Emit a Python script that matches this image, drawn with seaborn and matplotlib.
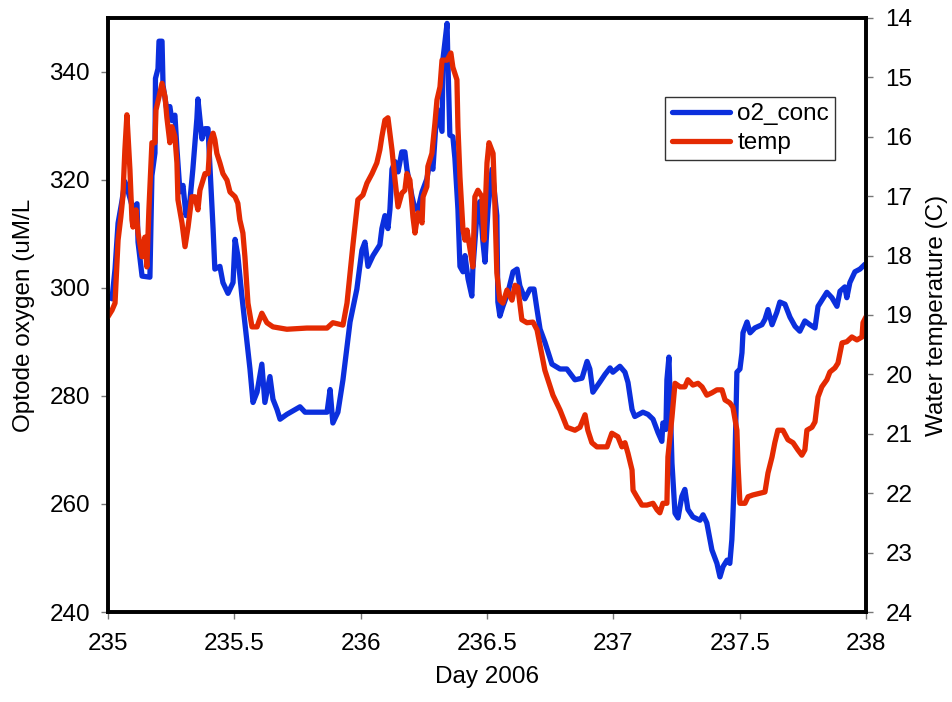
import matplotlib
matplotlib.use("Agg")
import matplotlib.pyplot as plt
import seaborn as sns
import pandas as pd
from matplotlib.ticker import FormatStrFormatter

# Optode oxygen concentration (uM/L) by day of 2006
o2_day = [
    235.000, 235.016, 235.028, 235.040, 235.055, 235.067, 235.079, 235.099, 235.115, 235.119,
    235.135, 235.166, 235.174, 235.186, 235.188, 235.198, 235.202, 235.214, 235.218, 235.233,
    235.245, 235.253, 235.265, 235.273, 235.285, 235.297, 235.309, 235.324, 235.336, 235.352,
    235.356, 235.372, 235.384, 235.396, 235.404, 235.416, 235.423, 235.443, 235.455, 235.475,
    235.495, 235.503, 235.514, 235.530, 235.550, 235.562, 235.574, 235.590, 235.609, 235.621,
    235.641, 235.653, 235.669, 235.681, 235.708, 235.760, 235.780, 235.867, 235.879, 235.890,
    235.910, 235.930, 235.958, 235.985, 236.005, 236.017, 236.029, 236.049, 236.076, 236.084,
    236.096, 236.108, 236.116, 236.124, 236.136, 236.148, 236.163, 236.175, 236.183, 236.203,
    236.215, 236.227, 236.243, 236.262, 236.274, 236.286, 236.302, 236.322, 236.326, 236.342,
    236.345, 236.353, 236.365, 236.373, 236.385, 236.393, 236.405, 236.413, 236.425, 236.440,
    236.444, 236.460, 236.472, 236.484, 236.492, 236.504, 236.520, 236.531, 236.539, 236.543,
    236.551, 236.563, 236.583, 236.603, 236.619, 236.630, 236.650, 236.670, 236.686, 236.698,
    236.710, 236.729, 236.757, 236.789, 236.816, 236.848, 236.876, 236.896, 236.907, 236.919,
    236.947, 236.967, 236.987, 236.998, 237.026, 237.046, 237.058, 237.074, 237.085, 237.117,
    237.137, 237.157, 237.177, 237.192, 237.196, 237.208, 237.212, 237.220, 237.232, 237.244,
    237.256, 237.271, 237.283, 237.295, 237.315, 237.343, 237.355, 237.370, 237.390, 237.410,
    237.422, 237.434, 237.450, 237.461, 237.469, 237.473, 237.481, 237.489, 237.501, 237.509,
    237.513, 237.529, 237.541, 237.560, 237.588, 237.600, 237.612, 237.628, 237.647, 237.659,
    237.679, 237.699, 237.719, 237.738, 237.758, 237.778, 237.798, 237.810, 237.829, 237.845,
    237.865, 237.885, 237.897, 237.916, 237.924, 237.936, 237.956, 237.976, 237.996,
]
o2_conc = [
    298.5, 298.0, 303.5, 312.0, 316.0, 319.7, 318.0, 314.6, 315.6, 308.5,
    302.2, 302.0, 320.8, 325.0, 338.8, 340.6, 345.7, 345.7, 337.5, 333.0,
    333.6, 331.0, 332.0, 325.8, 317.8, 319.0, 313.4, 316.0, 322.0, 331.4,
    335.0, 327.6, 329.5, 329.5, 322.0, 311.0, 303.5, 304.0, 301.0, 299.0,
    301.0, 309.0, 306.0, 298.5, 290.0, 285.0, 278.8, 280.7, 285.9, 278.8,
    283.6, 279.4, 277.5, 275.7, 276.6, 278.0, 277.0, 277.0, 281.2, 275.0,
    277.0, 283.0, 293.7, 299.8, 307.0, 308.5, 304.0, 306.0, 308.0, 311.0,
    313.4, 311.0, 314.6, 322.0, 323.4, 321.5, 325.2, 325.2, 322.0, 317.0,
    314.6, 314.6, 317.8, 320.2, 323.4, 322.0, 333.2, 329.0, 342.5, 349.0,
    342.5, 328.3, 328.0, 324.0, 314.6, 304.0, 303.0, 306.0, 301.7, 298.5,
    303.5, 313.4, 316.0, 308.5, 304.8, 314.6, 322.0, 317.0, 313.4, 297.4,
    294.8, 296.6, 299.2, 303.0, 303.5, 300.4, 298.0, 299.8, 299.8, 296.0,
    292.4, 290.0, 285.9, 285.0, 285.0, 283.0, 283.3, 286.4, 285.0, 280.7,
    282.6, 284.0, 285.2, 284.4, 285.5, 284.4, 282.5, 277.5, 276.2, 277.0,
    276.6, 275.7, 273.2, 271.6, 275.0, 273.8, 283.0, 287.2, 267.6, 258.3,
    257.4, 261.4, 262.7, 259.0, 257.6, 257.0, 258.0, 256.5, 251.5, 249.0,
    246.5, 248.4, 249.6, 249.0, 253.4, 257.6, 267.6, 284.4, 285.0, 288.0,
    291.7, 293.7, 291.7, 292.6, 293.2, 294.2, 296.0, 293.2, 295.5, 297.4,
    297.0, 294.6, 292.9, 292.0, 293.9, 293.2, 292.6, 296.6, 298.0, 299.2,
    298.2, 296.6, 299.4, 300.2, 298.2, 301.0, 303.0, 303.5, 304.4,
]

# Water temperature (C) by day of 2006
temp_day = [
    235.000, 235.016, 235.028, 235.040, 235.051, 235.059, 235.067, 235.075, 235.087, 235.095,
    235.099, 235.111, 235.119, 235.135, 235.146, 235.154, 235.162, 235.174, 235.186, 235.190,
    235.202, 235.214, 235.226, 235.233, 235.245, 235.253, 235.265, 235.273, 235.277, 235.293,
    235.305, 235.317, 235.332, 235.344, 235.356, 235.364, 235.384, 235.396, 235.404, 235.416,
    235.423, 235.431, 235.443, 235.455, 235.471, 235.483, 235.503, 235.514, 235.522, 235.534,
    235.542, 235.554, 235.570, 235.590, 235.609, 235.629, 235.653, 235.681, 235.708, 235.787,
    235.867, 235.890, 235.930, 235.946, 235.958, 235.970, 235.989, 236.009, 236.025, 236.045,
    236.064, 236.076, 236.084, 236.096, 236.108, 236.124, 236.136, 236.148, 236.163, 236.175,
    236.183, 236.195, 236.207, 236.215, 236.227, 236.243, 236.247, 236.262, 236.266, 236.282,
    236.294, 236.302, 236.314, 236.322, 236.342, 236.357, 236.365, 236.381, 236.385, 236.393,
    236.405, 236.413, 236.421, 236.429, 236.444, 236.452, 236.464, 236.480, 236.488, 236.500,
    236.508, 236.524, 236.531, 236.539, 236.551, 236.563, 236.579, 236.599, 236.611, 236.622,
    236.638, 236.658, 236.682, 236.698, 236.729, 236.761, 236.789, 236.816, 236.848, 236.868,
    236.888, 236.899, 236.915, 236.935, 236.975, 236.994, 237.018, 237.034, 237.046, 237.058,
    237.074, 237.078, 237.093, 237.113, 237.133, 237.157, 237.173, 237.184, 237.196, 237.212,
    237.216, 237.232, 237.244, 237.264, 237.283, 237.295, 237.315, 237.335, 237.351, 237.370,
    237.390, 237.410, 237.430, 237.442, 237.461, 237.473, 237.489, 237.493, 237.501, 237.521,
    237.533, 237.552, 237.580, 237.600, 237.612, 237.628, 237.639, 237.651, 237.671, 237.691,
    237.711, 237.730, 237.746, 237.758, 237.766, 237.786, 237.798, 237.810, 237.825, 237.845,
    237.857, 237.877, 237.889, 237.905, 237.924, 237.944, 237.964, 237.984, 237.988, 238.000,
]
temp = [
    19.03, 18.92, 18.80, 17.74, 17.35, 17.01, 16.22, 15.63, 16.56, 17.40,
    17.52, 17.23, 17.62, 18.02, 17.69, 18.19, 17.23, 16.10, 16.10, 15.55,
    15.33, 15.10, 15.33, 15.67, 16.10, 15.83, 16.00, 16.44, 17.06, 17.45,
    17.85, 17.52, 17.01, 17.01, 17.23, 16.90, 16.62, 16.62, 16.10, 15.94,
    16.05, 16.28, 16.44, 16.62, 16.73, 16.93, 17.01, 17.12, 17.40, 17.62,
    18.02, 18.80, 19.20, 19.20, 18.97, 19.13, 19.20, 19.22, 19.24, 19.22,
    19.22, 19.13, 19.17, 18.80, 18.30, 17.80, 17.06, 16.98, 16.78, 16.62,
    16.44, 16.22, 16.00, 15.72, 15.68, 16.22, 16.73, 17.18, 16.95, 16.90,
    16.62, 16.73, 17.35, 17.62, 17.28, 17.45, 17.01, 16.84, 16.50, 16.28,
    15.77, 15.38, 15.16, 14.71, 14.71, 14.59, 14.83, 15.04, 15.83, 16.68,
    17.57, 17.74, 17.57, 17.79, 18.19, 17.01, 16.90, 17.01, 17.74, 16.44,
    16.10, 16.28, 17.12, 18.29, 18.75, 18.80, 18.58, 18.75, 18.50, 18.53,
    19.08, 19.13, 19.12, 19.25, 19.93, 20.35, 20.60, 20.89, 20.94, 20.89,
    20.68, 20.94, 21.15, 21.22, 21.22, 20.99, 21.05, 21.22, 21.15, 21.33,
    21.61, 21.95, 22.06, 22.20, 22.20, 22.17, 22.28, 22.33, 22.17, 22.17,
    21.39, 20.72, 20.15, 20.21, 20.21, 20.09, 20.18, 20.15, 20.21, 20.35,
    20.31, 20.26, 20.26, 20.43, 20.48, 20.55, 20.94, 21.49, 22.17, 22.17,
    22.06, 22.03, 22.00, 21.98, 21.66, 21.39, 21.15, 20.94, 20.94, 21.10,
    21.15, 21.27, 21.36, 21.27, 20.94, 20.89, 20.80, 20.38, 20.21, 20.09,
    19.96, 19.89, 19.81, 19.47, 19.45, 19.37, 19.42, 19.37, 19.13, 19.03,
]

x_ticks = [235, 235.5, 236, 236.5, 237, 237.5, 238]
o2_ticks = [240, 260, 280, 300, 320, 340]
temp_ticks = list(range(14, 25))

BLUE = "#0B2FDD"
RED = "#E42A02"
FS = 17.5

sns.set_style("white")
plt.rcParams["font.family"] = ["Liberation Sans", "DejaVu Sans"]
plt.rcParams["font.size"] = FS
plt.rcParams["text.color"] = "black"
plt.rcParams["axes.labelcolor"] = "black"

o2_df = pd.DataFrame({"day": o2_day, "o2_conc": o2_conc})
temp_df = pd.DataFrame({"day": temp_day, "temp": temp})

fig = plt.figure(figsize=(9.52, 7.02), dpi=100)
ax = fig.add_axes([0.1134, 0.1282, 0.7963, 0.8462])
ax2 = ax.twinx()

sns.lineplot(data=o2_df, x="day", y="o2_conc", ax=ax, color=BLUE,
             linewidth=3.8, estimator=None, sort=False, legend=False)
sns.lineplot(data=temp_df, x="day", y="temp", ax=ax2, color=RED,
             linewidth=3.8, estimator=None, sort=False, legend=False)

ax.set_xlim(235, 238)
ax.set_ylim(240, 350)
ax2.set_ylim(24, 14)
ax.set_xticks(x_ticks)
ax.xaxis.set_major_formatter(FormatStrFormatter("%g"))
ax.set_yticks(o2_ticks)
ax2.set_yticks(temp_ticks)

for a in (ax, ax2):
    a.tick_params(axis="both", which="major", direction="out", length=5,
                  width=1, color="#777777", labelsize=FS, pad=8,
                  labelcolor="black")
    for s in a.spines.values():
        s.set_color("black")
        s.set_linewidth(2.6)

ax.tick_params(axis="x", bottom=True, pad=10)
ax.tick_params(axis="y", left=True)
ax2.tick_params(axis="y", right=True, pad=9)

ax.set_xlabel("Day 2006", fontsize=FS, labelpad=8, color="black")
ax.set_ylabel("Optode oxygen (uM/L", fontsize=FS, labelpad=10, color="black")
ax2.set_ylabel("Water temperature (C)", fontsize=FS, labelpad=10, color="black")

handles = [
    plt.Line2D([], [], color=BLUE, linewidth=3.8, label="o2_conc"),
    plt.Line2D([], [], color=RED, linewidth=3.8, label="temp"),
]
leg = ax2.legend(handles=handles, loc="upper right",
                 bbox_to_anchor=(0.959, 0.867), frameon=True, fancybox=False,
                 edgecolor="black", fontsize=FS, handlelength=2.4,
                 handletextpad=0.3, borderpad=0.25, labelspacing=0.3,
                 borderaxespad=0)
leg.get_frame().set_linewidth(1.0)
for t in leg.get_texts():
    t.set_color("black")

fig.savefig("out.png", dpi=100)
